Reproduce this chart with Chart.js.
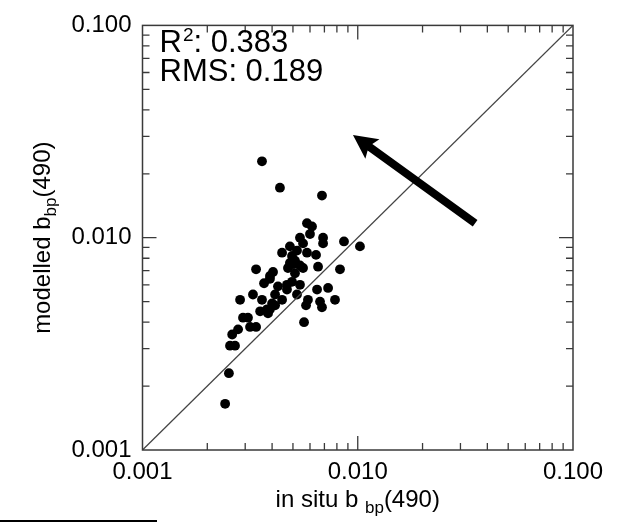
<!DOCTYPE html>
<html><head><meta charset="utf-8">
<script src="https://cdn.jsdelivr.net/npm/chart.js@4/dist/chart.umd.min.js"></script>
<style>html,body{margin:0;padding:0;background:#fff;}#wrap{width:623px;height:524px;position:relative;}</style>
</head><body><div id="wrap"><canvas id="c" width="623" height="524"></canvas></div>
<script>
// in situ bbp(490)
const inSitu = [0.00359,0.00435,0.00682,0.00581,0.00613,0.00600,0.00539,0.00557,0.00690,0.00690,
  0.00863,0.01024,0.00484,0.00445,0.00581,0.00640,0.00495,0.00511,0.00500,0.00539,
  0.00557,0.00654,0.00827,0.00337,0.00404,0.00511,0.00391,0.00367,0.00426,0.00469,
  0.00495,0.00539,0.00469,0.00522,0.00284,0.00326,0.00359,0.00413,0.00445,0.00400,
  0.00379,0.00352,0.00383,0.00309,0.00293,0.00316,0.00278,0.00261,0.00255,0.00269,
  0.00647,0.00728,0.00784,0.00587,0.00668,0.00575,0.00682,0.00563,0.00252,0.00242,
  0.00413,0.00391,0.00337,0.00522,0.00474,0.00484,0.00391];
// modelled bbp(490)
const modelled = [0.0229,0.0172,0.0158,0.0117,0.0113,0.0104,0.0100,0.0094,0.0100,0.0094,
  0.0096,0.0091,0.0091,0.0085,0.0085,0.0083,0.0082,0.0078,0.0075,0.0074,
  0.0072,0.0073,0.0071,0.0071,0.0069,0.0068,0.0064,0.0061,0.0059,0.0060,
  0.0062,0.0060,0.0057,0.0054,0.0051,0.0054,0.0051,0.0054,0.0051,0.0049,
  0.0046,0.0045,0.0044,0.0042,0.0042,0.0038,0.0037,0.0035,0.0031,0.0031,
  0.0057,0.0058,0.0051,0.0051,0.0050,0.0048,0.0047,0.0040,0.0023,0.00165,
  0.0048,0.0046,0.0038,0.0087,0.0072,0.0076,0.0066];
const oneToOne = [0.001, 0.1];
const majorTicks = [0.001, 0.01, 0.1];
const minorTicks = [0.002,0.003,0.004,0.005,0.006,0.007,0.008,0.009,0.02,0.03,0.04,0.05,0.06,0.07,0.08,0.09];
const arrowTail = [0.0351, 0.0117];
const arrowHead = [0.0095, 0.0305];
const r2Value = '0.383';
const rmsValue = '0.189';
const xTitle = ['in situ b ', 'bp', '(490)'];
const yTitle = ['modelled b', 'bp', '(490)'];

const FONT = '"Liberation Sans", Arial, sans-serif';

const decor = {
  id: 'decor',
  afterDatasetsDraw(chart) {
    const ctx = chart.ctx;
    const xs = chart.scales.x, ys = chart.scales.y;
    ctx.save();
    const x1 = xs.getPixelForValue(arrowTail[0]), y1 = ys.getPixelForValue(arrowTail[1]);
    const x2 = xs.getPixelForValue(arrowHead[0]), y2 = ys.getPixelForValue(arrowHead[1]);
    const dx = x2 - x1, dy = y2 - y1, L = Math.hypot(dx, dy);
    const ux = dx / L, uy = dy / L, px = -uy, py = ux;
    const hl = 24, hw = 12, sw = 4;
    const bx = x2 - ux * hl, by = y2 - uy * hl;
    ctx.fillStyle = '#000';
    ctx.beginPath();
    ctx.moveTo(x1 + px * sw, y1 + py * sw);
    ctx.lineTo(bx + ux * 3 + px * sw, by + uy * 3 + py * sw);
    ctx.lineTo(bx + px * hw, by + py * hw);
    ctx.lineTo(x2, y2);
    ctx.lineTo(bx - px * hw, by - py * hw);
    ctx.lineTo(bx + ux * 3 - px * sw, by + uy * 3 - py * sw);
    ctx.lineTo(x1 - px * sw, y1 - py * sw);
    ctx.closePath();
    ctx.fill();
    ctx.restore();
  },
  afterDraw(chart) {
    const ctx = chart.ctx, a = chart.chartArea;
    const xs = chart.scales.x, ys = chart.scales.y;
    ctx.save();
    ctx.strokeStyle = '#3a3a3a';
    ctx.lineWidth = 1.5;
    ctx.strokeRect(a.left, a.top, a.right - a.left, a.bottom - a.top);
    ctx.lineWidth = 1.3;
    ctx.beginPath();
    const tick = (vals, len) => {
      vals.forEach(v => {
        const x = xs.getPixelForValue(v);
        ctx.moveTo(x, a.bottom); ctx.lineTo(x, a.bottom - len);
        ctx.moveTo(x, a.top); ctx.lineTo(x, a.top + len);
        const y = ys.getPixelForValue(v);
        ctx.moveTo(a.left, y); ctx.lineTo(a.left + len, y);
        ctx.moveTo(a.right, y); ctx.lineTo(a.right - len, y);
      });
    };
    tick(minorTicks, 7);
    tick(majorTicks.slice(1, -1), 14);
    ctx.stroke();

    ctx.fillStyle = '#000';
    ctx.textBaseline = 'alphabetic';
    ctx.textAlign = 'left';
    let tx = a.left + 17, ty = a.top + 27;
    ctx.font = '31px ' + FONT;
    ctx.fillText('R', tx, ty);
    tx += ctx.measureText('R').width + 1;
    ctx.font = '19px ' + FONT;
    ctx.fillText('2', tx, ty - 11);
    tx += ctx.measureText('2').width;
    ctx.font = '31px ' + FONT;
    ctx.fillText(': ' + r2Value, tx, ty);
    ctx.fillText('RMS: ' + rmsValue, a.left + 17, ty + 29);

    const drawTitle = (parts, cx, cy) => {
      ctx.font = '24px ' + FONT;
      const w0 = ctx.measureText(parts[0]).width;
      const w2 = ctx.measureText(parts[2]).width;
      ctx.font = '17px ' + FONT;
      const w1 = ctx.measureText(parts[1]).width;
      let x = cx - (w0 + w1 + w2) / 2;
      ctx.font = '24px ' + FONT;
      ctx.fillText(parts[0], x, cy); x += w0;
      ctx.font = '17px ' + FONT;
      ctx.fillText(parts[1], x, cy + 6); x += w1;
      ctx.font = '24px ' + FONT;
      ctx.fillText(parts[2], x, cy);
    };
    drawTitle(xTitle, (a.left + a.right) / 2, 507);
    ctx.save();
    ctx.translate(50, (a.top + a.bottom) / 2);
    ctx.rotate(-Math.PI / 2);
    drawTitle(yTitle, 0, 0);
    ctx.restore();

    ctx.fillStyle = '#000';
    ctx.fillRect(0, 520, 157, 2);
    ctx.restore();
  }
};

const points = inSitu.map((v, i) => ({ x: v, y: modelled[i] }));
const lineData = oneToOne.map(v => ({ x: v, y: v }));

const tickFont = { family: FONT, size: 24 };
new Chart(document.getElementById('c'), {
  type: 'scatter',
  data: {
    datasets: [
      { type: 'line', data: lineData, borderColor: '#444', borderWidth: 1.3, pointRadius: 0, fill: false },
      { data: points, backgroundColor: '#000', borderColor: '#000', pointRadius: 4.9, pointBorderWidth: 0 }
    ]
  },
  options: {
    responsive: false, animation: false, devicePixelRatio: 1,
    layout: { padding: { top: 19, right: 50, left: 0, bottom: 0 } },
    plugins: { legend: { display: false }, tooltip: { enabled: false } },
    scales: {
      x: {
        type: 'logarithmic', min: 0.001, max: 0.1,
        afterBuildTicks: s => { s.ticks = majorTicks.map(v => ({ value: v })); },
        afterFit: s => { s.height = 74; },
        grid: { display: false, drawTicks: false }, border: { display: false },
        ticks: { color: '#000', font: tickFont, padding: 8, autoSkip: false, maxRotation: 0,
          callback: v => Number(v).toFixed(3) }
      },
      y: {
        type: 'logarithmic', min: 0.001, max: 0.1,
        afterBuildTicks: s => { s.ticks = majorTicks.map(v => ({ value: v })); },
        afterFit: s => { s.width = 142.5; },
        grid: { display: false, drawTicks: false }, border: { display: false },
        ticks: { color: '#000', font: tickFont, padding: 11, autoSkip: false,
          callback: v => Number(v).toFixed(3) }
      }
    }
  },
  plugins: [decor]
});
</script></body></html>
